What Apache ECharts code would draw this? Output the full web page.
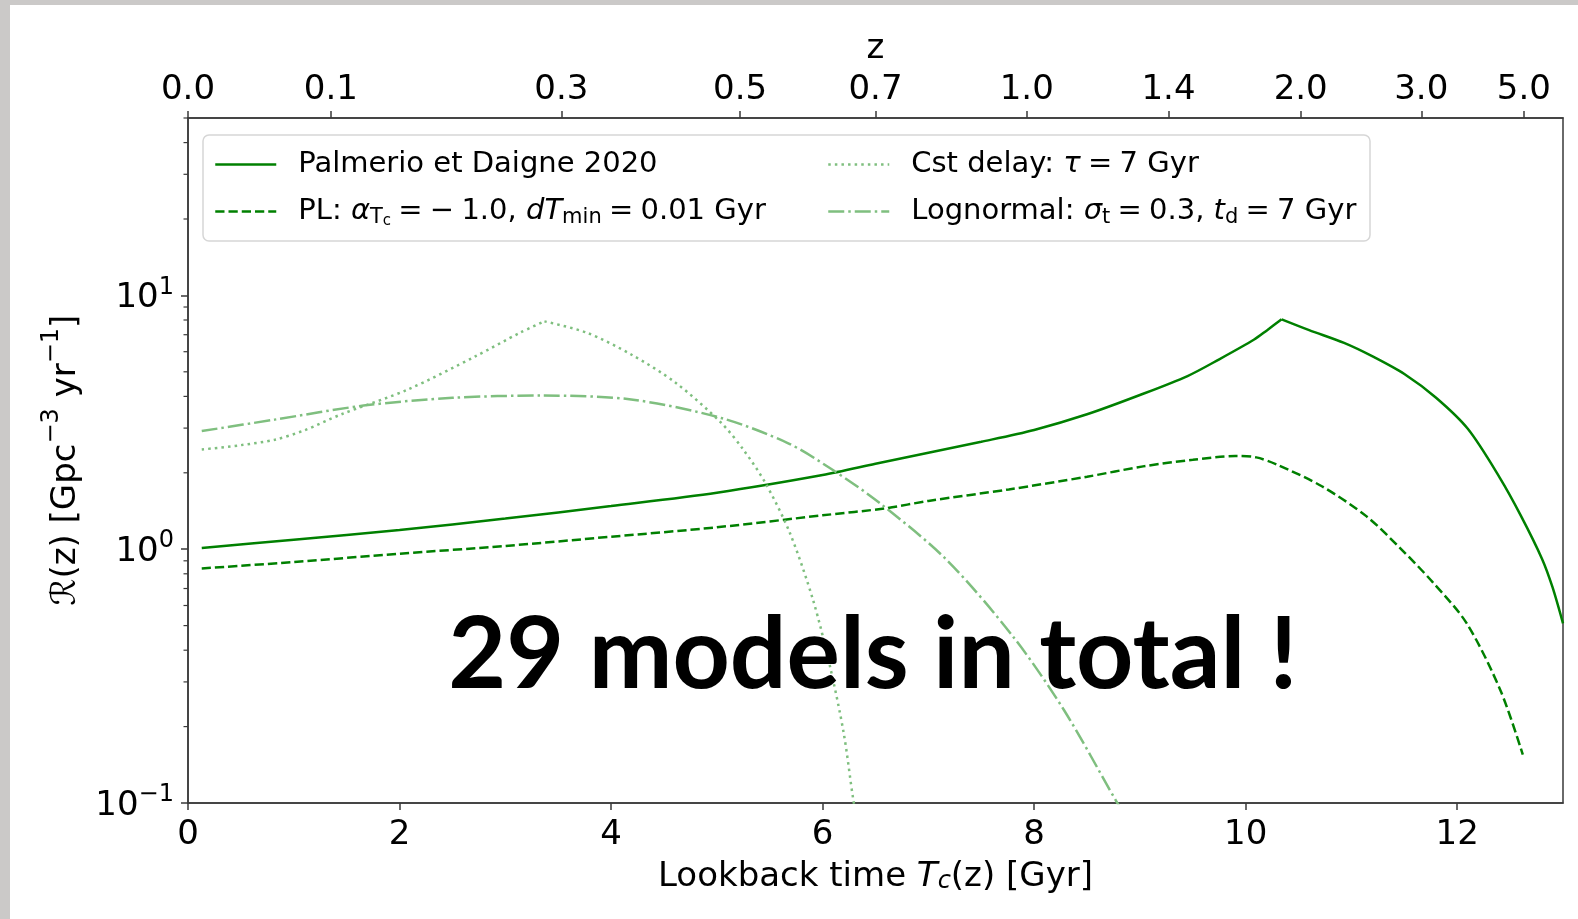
<!DOCTYPE html>
<html>
<head>
<meta charset="utf-8">
<script src="https://cdn.jsdelivr.net/npm/echarts@6/dist/echarts.min.js"></script>
<style>
html,body{margin:0;padding:0;background:#cbc9c8;}
#c{width:1578px;height:919px;}
</style>
</head>
<body>
<div id="c"></div>
<script>
// ---------- data ----------
const xTickValues = [0, 2, 4, 6, 8, 10, 12];
const yTickValues = [0.1, 1, 10];
const yMinorTickValues = [0.2,0.3,0.4,0.5,0.6,0.7,0.8,0.9,2,3,4,5,6,7,8,9,20,30,40,50];
const zTickLabels = ['0.0','0.1','0.3','0.5','0.7','1.0','1.4','2.0','3.0','5.0'];
const zTickTimes  = [0, 1.35, 3.53, 5.22, 6.50, 7.93, 9.27, 10.52, 11.66, 12.63];

const seriesNames = ['Palmerio et Daigne 2020', 'PL', 'Cst delay', 'Lognormal'];

const palmerioT = [0.13, 1.0, 2.0, 3.0, 4.0, 5.0, 6.0, 6.5, 7.0, 7.5, 8.0, 8.5, 9.0, 9.45, 9.75, 10.08, 10.2, 10.34, 10.6, 10.93, 11.2, 11.5, 11.8, 12.1, 12.4, 12.6, 12.8, 12.9, 13.0];
const palmerioR = [1.01, 1.09, 1.19, 1.32, 1.48, 1.67, 1.96, 2.17, 2.40, 2.65, 2.95, 3.40, 4.05, 4.81, 5.60, 6.70, 7.28, 8.05, 7.30, 6.50, 5.75, 4.90, 3.95, 2.98, 1.92, 1.36, 0.92, 0.71, 0.51];

const plT = [0.13, 1.0, 2.0, 3.0, 4.0, 5.0, 6.0, 6.6, 7.0, 7.76, 8.5, 9.03, 9.5, 9.9, 10.1, 10.3, 10.72, 11.14, 11.46, 11.77, 12.09, 12.41, 12.62];
const plR = [0.84, 0.89, 0.96, 1.03, 1.12, 1.22, 1.36, 1.45, 1.55, 1.72, 1.93, 2.12, 2.25, 2.33, 2.30, 2.15, 1.77, 1.35, 1.01, 0.74, 0.51, 0.277, 0.155];

const cstT = [0.13, 0.5, 0.82, 1.1, 1.45, 2.08, 2.72, 3.14, 3.37, 3.77, 4.19, 4.61, 5.04, 5.25, 5.46, 5.69, 5.91, 6.07, 6.20, 6.29, 6.32];
const cstR = [2.47, 2.57, 2.70, 2.94, 3.40, 4.26, 5.76, 7.13, 7.90, 7.13, 5.85, 4.53, 3.15, 2.47, 1.82, 1.16, 0.63, 0.345, 0.188, 0.103, 0.09];

const lognT = [0.13, 0.82, 1.66, 2.50, 3.35, 4.19, 5.04, 5.67, 6.09, 6.54, 7.17, 7.80, 8.28, 8.78, 8.82];
const lognR = [2.92, 3.24, 3.68, 3.95, 4.03, 3.89, 3.29, 2.62, 2.06, 1.52, 0.91, 0.453, 0.233, 0.101, 0.095];

// ---------- styles ----------
const FONT = 'DejaVu Sans';
const AXIS_COLOR = '#3a3a3a';
const DARK_GREEN = '#008000';
const LIGHT_GREEN = '#7fbf7f';
const LW = 2.5;

function zip(a, b) { return a.map((v, i) => [v, b[i]]); }

// build one or two smooth line pieces (split at a cusp so the peak stays sharp)
function lineSeries(name, T, R, color, dash, cuspT) {
  const pts = zip(T, R);
  const base = {name: name, type: 'line', symbol: 'none', clip: true, z: 3, smooth: 0.3,
    itemStyle: {color: color}, lineStyle: {color: color, width: LW, type: dash}};
  if (cuspT == null) return [Object.assign({}, base, {data: pts})];
  const k = T.indexOf(cuspT);
  return [Object.assign({}, base, {data: pts.slice(0, k + 1)}),
          Object.assign({}, base, {data: pts.slice(k)})];
}

const SP = '\u2005';
const legendText = {
  'Palmerio et Daigne 2020': '{p|Palmerio et Daigne 2020}',
  'PL': '{p|PL: }{i|α}{sb|T}{ssb|c}{n|' + SP + '=' + SP + '−' + SP + '1.0, }{i|dT}{sb|min}{n|' + SP + '=' + SP + '0.01 Gyr}',
  'Cst delay': '{p|Cst delay: }{i|τ}{n|' + SP + '=' + SP + '7 Gyr}',
  'Lognormal': '{p|Lognormal: }{i|σ}{sb|t}{n|' + SP + '=' + SP + '0.3, }{i|t}{sb|d}{n|' + SP + '=' + SP + '7 Gyr}'
};
const LFS = 29;
const legendRich = {
  p: {fontFamily: FONT, fontSize: LFS, lineHeight: 34, color: '#000', padding: [0, 0, 0, 17]},
  n: {fontFamily: FONT, fontSize: LFS, lineHeight: 34, color: '#000'},
  i: {fontFamily: FONT, fontSize: LFS, lineHeight: 34, color: '#000', fontStyle: 'italic'},
  sb: {fontFamily: FONT, fontSize: 21, lineHeight: 22, color: '#000', verticalAlign: 'bottom'},
  ssb: {fontFamily: FONT, fontSize: 15, lineHeight: 14, color: '#000', verticalAlign: 'bottom'}
};

function legendCfg(data, left) {
  return {
    data: data, orient: 'vertical', left: left, top: 150, padding: 0,
    itemGap: 18, itemWidth: 61, itemHeight: 34,
    itemStyle: {opacity: 0}, lineStyle: {width: LW},
    selectedMode: false,
    formatter: n => legendText[n],
    textStyle: {fontFamily: FONT, fontSize: LFS, color: '#000', rich: legendRich},
    z: 6
  };
}

const chart = echarts.init(document.getElementById('c'), null, {renderer: 'canvas'});

const option = {
  animation: false,
  backgroundColor: '#cbc9c8',
  grid: {left: 188, top: 118, width: 1375, height: 685, show: true, borderColor: AXIS_COLOR, borderWidth: 1.5, backgroundColor: 'transparent', containLabel: false},
  graphic: [
    {type: 'rect', z: -5, silent: true, shape: {x: 10, y: 5, width: 1568, height: 914}, style: {fill: '#ffffff'}},
    {type: 'rect', z: 5, silent: true, shape: {x: 203, y: 135, width: 1167, height: 106, r: 6}, style: {fill: 'rgba(255,255,255,0.8)', stroke: '#d6d6d6', lineWidth: 1.5}},
    {type: 'text', z: 100, silent: true, style: {text: '29 models in total !', x: 873, y: 656, align: 'center', verticalAlign: 'middle', fontFamily: 'Lato', fontWeight: 'bold', fontSize: 100, fill: '#000'}}
  ],
  legend: [
    legendCfg(['Palmerio et Daigne 2020', 'PL'], 214),
    legendCfg(['Cst delay', 'Lognormal'], 827)
  ],
  xAxis: [
    {
      type: 'value', position: 'bottom', min: 0, max: 13, interval: 2,
      name: '{n|Lookback time }{i|T}{sb|c}{n|(z) [Gyr]}', nameLocation: 'middle', nameGap: 57,
      nameTextStyle: {rich: {
        n: {fontFamily: FONT, fontSize: 34, lineHeight: 34, color: '#000'},
        i: {fontFamily: FONT, fontSize: 34, lineHeight: 34, color: '#000', fontStyle: 'italic'},
        sb: {fontFamily: FONT, fontSize: 24, lineHeight: 24, color: '#000', fontStyle: 'italic', verticalAlign: 'bottom'}
      }},
      axisLine: {show: true, onZero: false, lineStyle: {color: AXIS_COLOR, width: 1.5}},
      axisTick: {show: true, length: 7, customValues: xTickValues, lineStyle: {color: AXIS_COLOR, width: 1.5}},
      axisLabel: {customValues: xTickValues, formatter: v => (xTickValues.indexOf(v) >= 0 ? String(v) : ''), fontFamily: FONT, fontSize: 34, color: '#000', margin: 15},
      splitLine: {show: false}
    },
    {
      type: 'value', position: 'top', min: 0, max: 13,
      name: 'z', nameLocation: 'middle', nameGap: 52,
      nameTextStyle: {fontFamily: FONT, fontSize: 34, color: '#000'},
      axisLine: {show: true, onZero: false, lineStyle: {color: AXIS_COLOR, width: 1.5}},
      axisTick: {show: true, length: 7, customValues: zTickTimes, lineStyle: {color: AXIS_COLOR, width: 1.5}},
      axisLabel: {customValues: zTickTimes, formatter: v => {
        const i = zTickTimes.findIndex(t => Math.abs(t - v) < 1e-6);
        return i >= 0 ? zTickLabels[i] : '';
      }, fontFamily: FONT, fontSize: 34, color: '#000', margin: 11},
      splitLine: {show: false}
    }
  ],
  yAxis: [
    {
      type: 'log', logBase: 10, min: 0.1, max: 50,
      name: '{h| }{c|ℛ}{n|(z) [Gpc}{s|−3}{n| yr}{s|−1}{n|]}', nameLocation: 'middle', nameGap: 96,
      nameMoveOverlap: false,
      nameTextStyle: {rich: {
        h: {fontFamily: FONT, fontSize: 2, lineHeight: 52, color: '#000'},
        c: {fontFamily: FONT, fontSize: 34, lineHeight: 34, color: '#000', fontStyle: 'italic'},
        n: {fontFamily: FONT, fontSize: 34, lineHeight: 34, color: '#000'},
        s: {fontFamily: FONT, fontSize: 24, lineHeight: 16, color: '#000', verticalAlign: 'top'}
      }},
      axisLine: {show: true, onZero: false, lineStyle: {color: AXIS_COLOR, width: 1.5}},
      axisTick: {show: true, length: 7, customValues: yTickValues, lineStyle: {color: AXIS_COLOR, width: 1.5}},
      axisLabel: {
        customValues: yTickValues, margin: 14,
        formatter: v => {
          const e = Math.round(Math.log10(v));
          if (Math.abs(Math.log10(v) - e) > 0.01) return '';
          return '{b|10}{s|' + (e < 0 ? '−' + (-e) : String(e)) + '}';
        },
        rich: {
          b: {fontFamily: FONT, fontSize: 34, lineHeight: 40, color: '#000', verticalAlign: 'bottom'},
          s: {fontFamily: FONT, fontSize: 24, lineHeight: 20, color: '#000', verticalAlign: 'top'}
        }
      },
      splitLine: {show: false}
    }
  ],
  series: [].concat(
    lineSeries(seriesNames[0], palmerioT, palmerioR, DARK_GREEN, 'solid', 10.34),
    lineSeries(seriesNames[1], plT, plR, DARK_GREEN, [9.25, 4], null),
    lineSeries(seriesNames[2], cstT, cstR, LIGHT_GREEN, [2.5, 4.1], 3.37),
    lineSeries(seriesNames[3], lognT, lognR, LIGHT_GREEN, [16, 4, 2.5, 4], null),
    [{
      name: 'minorTicks', type: 'custom', silent: true, clip: false, z: 4,
      data: yMinorTickValues.map(v => [0, v]),
      renderItem: (params, api) => {
        const p = api.coord([0, api.value(1)]);
        return {type: 'line', shape: {x1: p[0] - 4.5, y1: p[1], x2: p[0], y2: p[1]}, style: {stroke: AXIS_COLOR, lineWidth: 1.2}};
      }
    }]
  )
};
chart.setOption(option);
</script>
</body>
</html>
